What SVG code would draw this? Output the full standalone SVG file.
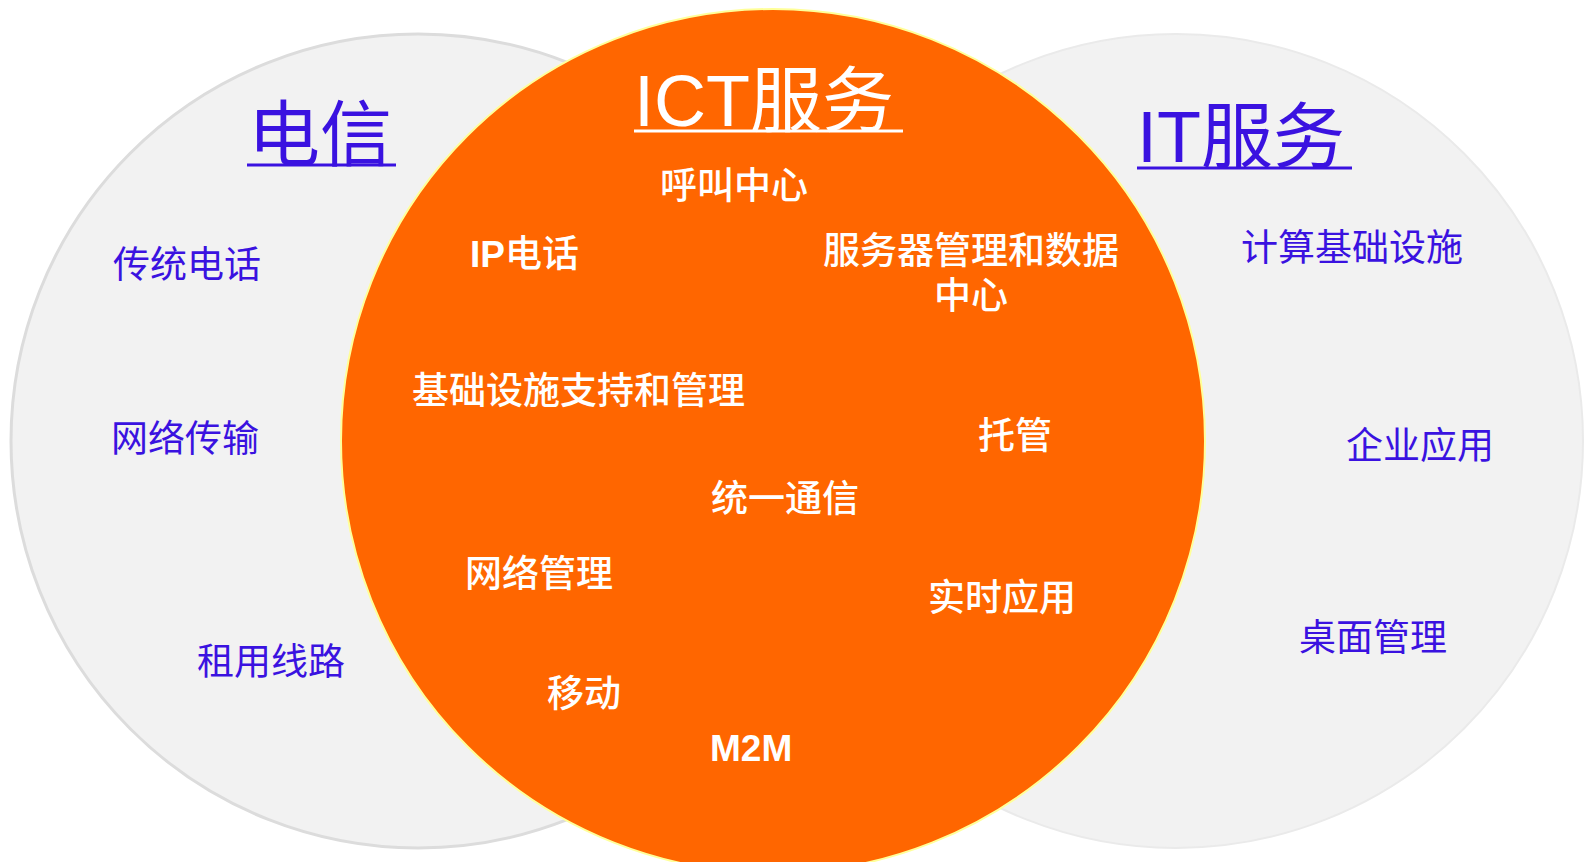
<svg xmlns="http://www.w3.org/2000/svg" width="1585" height="862" viewBox="0 0 1585 862">
<style>
.cjk{font-family:"Noto Sans CJK SC","Liberation Sans",sans-serif}
.blue{fill:#3A12E0;font-size:37px}
.white{fill:#FFFFFF;font-size:37px;font-weight:500}
.title{font-family:"Liberation Sans","Noto Sans CJK SC",sans-serif;font-size:72px}
.lat{font-family:"Liberation Sans","Noto Sans CJK SC",sans-serif;font-weight:bold}
</style>
<rect width="1585" height="862" fill="#FFFFFF"/>
<g id="telecom-circle">
<circle cx="418" cy="441" r="407" fill="#F2F2F2" stroke="#DCDCDC" stroke-width="3"/>
</g>
<g id="it-circle">
<circle cx="1176" cy="441" r="407" fill="#F2F2F2" stroke="#EAEAEA" stroke-width="2"/>
</g>
<g id="ict-circle">
<circle cx="773" cy="441" r="432" fill="#FF6600" stroke="#FFFF99" stroke-width="2"/>
</g>
<g id="connectors"></g>
<g id="telecom-title">
<text class="title" x="248" y="160" fill="#3A12E0">电信</text>
<line x1="247" y1="165" x2="396" y2="165" stroke="#3A12E0" stroke-width="3"/>
</g>
<g id="ict-title">
<text class="title" x="634" y="126" fill="#FFFFFF">ICT服务</text>
<line x1="634" y1="131" x2="903" y2="131" stroke="#FFFFFF" stroke-width="3"/>
</g>
<g id="it-title">
<text class="title" x="1137" y="162" fill="#3A12E0">IT服务</text>
<line x1="1137" y1="168" x2="1352" y2="168" stroke="#3A12E0" stroke-width="3"/>
</g>
<g id="telecom-items">
<text class="cjk blue" x="113" y="278">传统电话</text>
<text class="cjk blue" x="111" y="452">网络传输</text>
<text class="cjk blue" x="197" y="675">租用线路</text>
</g>
<g id="it-items">
<text class="cjk blue" x="1241" y="261">计算基础设施</text>
<text class="cjk blue" x="1346" y="459">企业应用</text>
<text class="cjk blue" x="1299" y="651">桌面管理</text>
</g>
<g id="ict-items">
<text class="cjk white" x="660" y="199">呼叫中心</text>
<text class="white" x="470" y="267"><tspan class="lat">IP</tspan><tspan class="cjk">电话</tspan></text>
<text class="cjk white" text-anchor="middle"><tspan x="971" y="264">服务器管理和数据</tspan><tspan x="971" y="309">中心</tspan></text>
<text class="cjk white" x="412" y="404">基础设施支持和管理</text>
<text class="cjk white" x="978" y="449">托管</text>
<text class="cjk white" x="711" y="512">统一通信</text>
<text class="cjk white" x="465" y="587">网络管理</text>
<text class="cjk white" x="928" y="611">实时应用</text>
<text class="cjk white" x="547" y="707">移动</text>
<text class="lat white" x="710" y="761" font-size="36">M2M</text>
</g>
</svg>
